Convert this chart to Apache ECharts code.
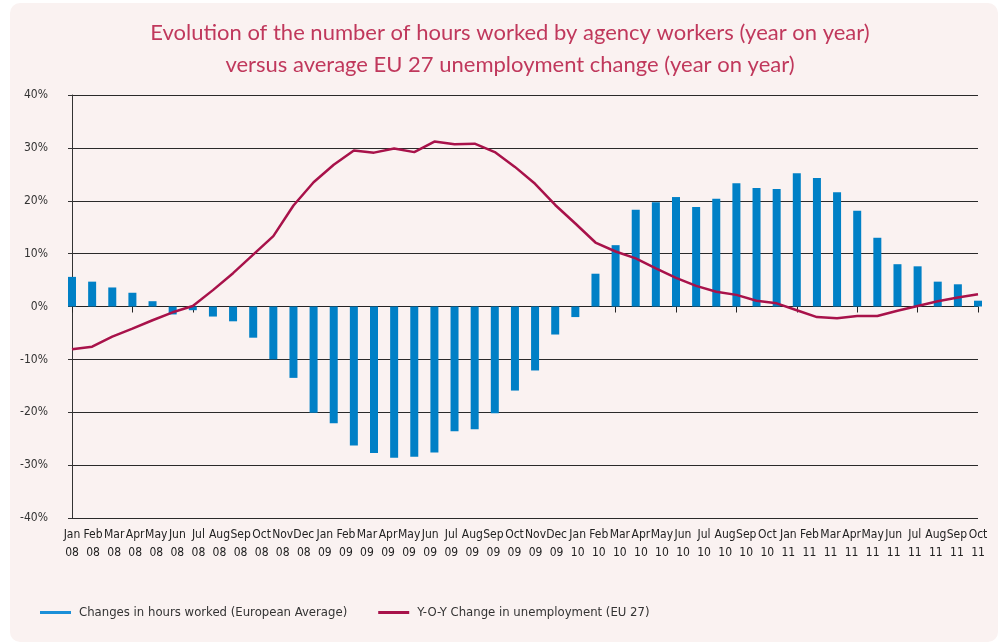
<!DOCTYPE html>
<html>
<head>
<meta charset="utf-8">
<title>Agency workers hours vs EU 27 unemployment</title>
<script src="https://cdn.jsdelivr.net/npm/echarts@6/dist/echarts.min.js"></script>
<style>
  html, body { margin: 0; padding: 0; background: #fff; }
  .panel {
    position: absolute;
    left: 10px;
    top: 3px;
    width: 988px;
    height: 639px;
    background: #faf2f1;
    border-radius: 10px;
  }
  #chart { position: absolute; left: 0; top: 0; width: 998px; height: 643px; }
</style>
</head>
<body>
<div class="panel"></div>
<div id="chart"></div>
<script>
// 46 monthly points, Jan 08 - Oct 11
const months = [
  'Jan 08', 'Feb 08', 'Mar 08', 'Apr 08', 'May 08', 'Jun 08', 'Jul 08', 'Aug 08', 'Sep 08', 'Oct 08', 'Nov 08', 'Dec 08',
  'Jan 09', 'Feb 09', 'Mar 09', 'Apr 09', 'May 09', 'Jun 09', 'Jul 09', 'Aug 09', 'Sep 09', 'Oct 09', 'Nov 09', 'Dec 09',
  'Jan 10', 'Feb 10', 'Mar 10', 'Apr 10', 'May 10', 'Jun 10', 'Jul 10', 'Aug 10', 'Sep 10', 'Oct 10', 'Nov 10', 'Dec 10',
  'Jan 11', 'Feb 11', 'Mar 11', 'Apr 11', 'May 11', 'Jun 11', 'Jul 11', 'Aug 11', 'Sep 11', 'Oct 11'
]

// the printed labels skip Nov 10 and Dec 10 (44 labels spread over the same width)
const tickLabels = [
  'Jan\n08', 'Feb\n08', 'Mar\n08', 'Apr\n08', 'May\n08', 'Jun\n08', 'Jul\n08', 'Aug\n08', 'Sep\n08', 'Oct\n08', 'Nov\n08', 'Dec\n08',
  'Jan\n09', 'Feb\n09', 'Mar\n09', 'Apr\n09', 'May\n09', 'Jun\n09', 'Jul\n09', 'Aug\n09', 'Sep\n09', 'Oct\n09', 'Nov\n09', 'Dec\n09',
  'Jan\n10', 'Feb\n10', 'Mar\n10', 'Apr\n10', 'May\n10', 'Jun\n10', 'Jul\n10', 'Aug\n10', 'Sep\n10', 'Oct\n10',
  'Jan\n11', 'Feb\n11', 'Mar\n11', 'Apr\n11', 'May\n11', 'Jun\n11', 'Jul\n11', 'Aug\n11', 'Sep\n11', 'Oct\n11'
]

const hoursWorked = [
  5.6, 4.7, 3.6, 2.6, 1.0, -1.5, -0.7, -1.9, -2.8, -5.9, -10.0, -13.5,
  -20.1, -22.1, -26.3, -27.7, -28.6, -28.4, -27.6, -23.6, -23.2, -20.2, -15.9, -12.1,
  -5.3, -2.0, 6.2, 11.6, 18.3, 19.7, 20.7, 18.8, 20.4, 23.3, 22.4, 22.2,
  25.2, 24.3, 21.6, 18.1, 13.0, 8.0, 7.6, 4.7, 4.2, 1.1
]

const unemployment = [
  -8.1, -7.6, -5.7, -4.2, -2.6, -1.1, 0.1, 3.1, 6.3, 9.8, 13.3, 19.1,
  23.5, 26.8, 29.5, 29.1, 29.9, 29.2, 31.2, 30.7, 30.8, 29.2, 26.4, 23.2,
  19.2, 15.7, 12.1, 10.4, 9.1, 7.2, 5.4, 3.9, 2.8, 2.2, 1.1, 0.6,
  -0.7, -2.0, -2.2, -1.8, -1.8, -0.8, 0.1, 1.0, 1.7, 2.3
]

const yTicks = [-40, -30, -20, -10, 0, 10, 20, 30, 40]

const barColor = '#0080c6'
const lineColor = '#a8124a'
const font = 'DejaVu Sans Condensed, DejaVu Sans, sans-serif'

const chart = echarts.init(document.getElementById('chart'))
chart.setOption({
  animation: false,
  title: {
    text: 'Evolution of the number of hours worked by agency workers (year on year)\nversus average EU 27 unemployment change (year on year)',
    left: 505,
    top: 12,
    textAlign: 'center',
    textStyle: {
      fontFamily: 'Lato, sans-serif',
      fontWeight: 'normal',
      fontSize: 22,
      lineHeight: 32,
      color: '#c0385c'
    }
  },
  legend: {
    left: 35,
    top: 601,
    itemWidth: 31,
    itemHeight: 3,
    itemGap: 31,
    textStyle: { fontFamily: font, fontSize: 13, color: '#333', padding: [0, 0, 0, 3] },
    data: [
      { name: 'Changes in hours worked (European Average)', icon: 'rect', itemStyle: { color: '#1a8fd8' } },
      { name: 'Y-O-Y Change in unemployment (EU 27)', icon: 'rect' }
    ]
  },
  grid: { left: 72, right: 20, top: 95, bottom: 125, containLabel: false },
  xAxis: [
    {
      type: 'category',
      data: months,
      boundaryGap: false,
      axisLine: { onZero: true, lineStyle: { color: '#222', width: 1 } },
      axisTick: { show: true, inside: false, length: 6, lineStyle: { color: '#222' } },
      axisLabel: { show: false },
      splitLine: { show: false }
    },
    {
      type: 'category',
      data: tickLabels,
      position: 'bottom',
      boundaryGap: false,
      axisLine: { show: false },
      axisTick: { show: false },
      axisLabel: {
        interval: 0,
        margin: 8,
        fontFamily: font,
        fontSize: 12,
        lineHeight: 18,
        color: '#222'
      }
    }
  ],
  yAxis: {
    type: 'value',
    min: -40,
    max: 40,
    interval: 10,
    axisLine: { show: true, lineStyle: { color: '#333' } },
    axisTick: { show: true, length: 4, lineStyle: { color: '#333' } },
    axisLabel: {
      margin: 24,
      fontFamily: font,
      fontSize: 12,
      color: '#333',
      formatter: v => (yTicks.includes(v) ? v + '%' : '')
    },
    splitLine: { show: true, lineStyle: { color: '#2a2a2a', width: 1 } }
  },
  series: [
    {
      name: 'Changes in hours worked (European Average)',
      type: 'bar',
      data: hoursWorked,
      barWidth: 8,
      itemStyle: { color: barColor },
      z: 2
    },
    {
      name: 'Y-O-Y Change in unemployment (EU 27)',
      type: 'line',
      data: unemployment,
      showSymbol: false,
      symbol: 'none',
      lineStyle: { color: lineColor, width: 2.5 },
      itemStyle: { color: lineColor },
      z: 3
    }
  ]
})
</script>
</body>
</html>
